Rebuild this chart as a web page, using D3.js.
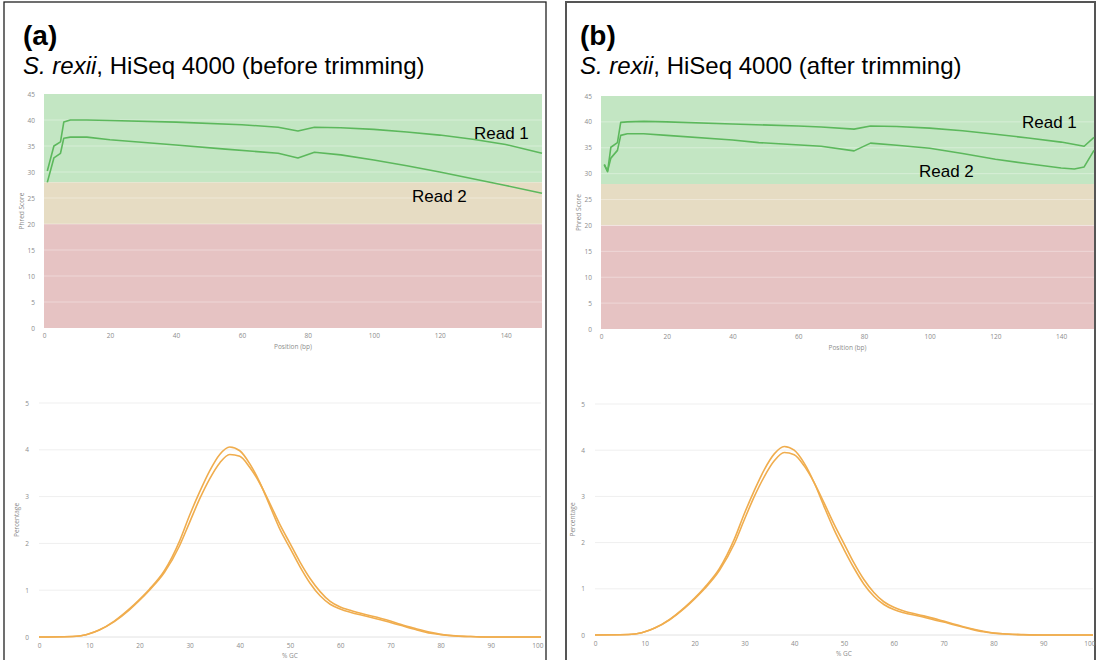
<!DOCTYPE html>
<html><head><meta charset="utf-8">
<script src="https://cdn.jsdelivr.net/npm/d3@7"></script>
<style>
html,body{margin:0;padding:0;background:#fff;}
svg{display:block;}
</style></head>
<body>
<svg id="c" width="1097" height="660"></svg>
<script>
// ---------- DATA ----------
const panelLetters = ["(a)", "(b)"];
const panelSpecies = ["S. rexii", "S. rexii"];
const panelSubtitles = [", HiSeq 4000 (before trimming)", ", HiSeq 4000 (after trimming)"];
const readLabels = ["Read 1", "Read 2"];

const phredTicksY = [0, 5, 10, 15, 20, 25, 30, 35, 40, 45];
const phredTicksX = [0, 20, 40, 60, 80, 100, 120, 140];
const gcTicksY = [0, 1, 2, 3, 4, 5];
const gcTicksX = [0, 10, 20, 30, 40, 50, 60, 70, 80, 90, 100];
const phredBands = [[28, 45, "#c3e6c3"], [20, 28, "#e6dcc3"], [0, 20, "#e6c3c3"]];

// Panel (a) Phred score by position
const aRead1 = [[1,30.2],[3,35.0],[5,35.8],[6,39.6],[8,40.0],[13,40.0],[20,39.9],[40,39.6],[60,39.1],[71,38.6],[77,37.9],[82,38.6],[90,38.5],[100,38.2],[110,37.7],[120,37.1],[130,36.3],[140,35.3],[151,33.6]];
const aRead2 = [[1,28.0],[3,32.7],[5,33.6],[6,36.5],[8,36.7],[13,36.7],[20,36.2],[40,35.2],[55,34.4],[71,33.6],[77,32.7],[82,33.8],[90,33.3],[100,32.3],[110,31.2],[120,30.0],[130,28.7],[140,27.4],[151,25.9]];
// Panel (b) Phred score by position
const bRead1 = [[1,31.8],[2,30.4],[3,35.1],[5,36.0],[6,39.9],[8,40.0],[13,40.1],[20,40.0],[40,39.6],[60,39.2],[67,39.0],[77,38.6],[82,39.2],[90,39.1],[100,38.8],[110,38.3],[120,37.6],[130,36.9],[140,36.1],[147,35.3],[150,37.0]];
const bRead2 = [[1,31.7],[2,30.5],[3,33.0],[5,34.5],[6,37.4],[8,37.7],[13,37.7],[20,37.4],[40,36.5],[48,36.0],[67,35.3],[77,34.4],[82,35.9],[90,35.5],[100,34.9],[110,33.9],[120,32.8],[130,31.9],[140,31.1],[144,30.9],[147,31.3],[150,34.5]];

// Panel (a) GC content distribution
const aGC1 = [[0,0],[5,0.005],[8,0.02],[10,0.07],[12,0.15],[15,0.34],[18,0.6],[20,0.8],[22,1.02],[25,1.42],[28,2.05],[30,2.6],[32,3.1],[34,3.55],[36,3.9],[38,4.06],[40,3.98],[42,3.7],[44,3.3],[46,2.8],[48,2.3],[50,1.9],[52,1.5],[54,1.15],[56,0.88],[58,0.7],[60,0.6],[62,0.53],[65,0.45],[68,0.37],[70,0.31],[72,0.25],[75,0.16],[78,0.08],[80,0.05],[83,0.02],[86,0.01],[90,0],[100,0]];
const aGC2 = [[0,0],[5,0.005],[8,0.02],[10,0.07],[12,0.15],[15,0.33],[18,0.58],[20,0.78],[22,1.0],[25,1.38],[28,1.95],[30,2.45],[32,2.95],[34,3.38],[36,3.72],[38,3.9],[40,3.86],[42,3.62],[44,3.28],[46,2.85],[48,2.4],[50,2.0],[52,1.6],[54,1.25],[56,0.97],[58,0.76],[60,0.64],[62,0.57],[65,0.48],[68,0.4],[70,0.34],[72,0.27],[75,0.18],[78,0.1],[80,0.06],[83,0.025],[86,0.01],[90,0],[100,0]];
// Panel (b) GC content distribution
const bGC1 = [[0,0],[5,0.005],[8,0.02],[10,0.07],[12,0.15],[15,0.34],[18,0.6],[20,0.8],[22,1.03],[25,1.44],[28,2.08],[30,2.63],[32,3.13],[34,3.58],[36,3.92],[38,4.08],[40,4.0],[42,3.72],[44,3.3],[46,2.78],[48,2.28],[50,1.85],[52,1.45],[54,1.1],[56,0.84],[58,0.66],[60,0.55],[62,0.48],[65,0.41],[68,0.33],[70,0.28],[72,0.22],[75,0.14],[78,0.07],[80,0.04],[83,0.015],[86,0.005],[90,0],[100,0]];
const bGC2 = [[0,0],[5,0.005],[8,0.02],[10,0.07],[12,0.15],[15,0.33],[18,0.58],[20,0.78],[22,1.0],[25,1.4],[28,1.98],[30,2.5],[32,3.0],[34,3.43],[36,3.77],[38,3.95],[40,3.9],[42,3.66],[44,3.3],[46,2.86],[48,2.4],[50,1.98],[52,1.56],[54,1.2],[56,0.92],[58,0.72],[60,0.6],[62,0.52],[65,0.44],[68,0.36],[70,0.3],[72,0.24],[75,0.15],[78,0.08],[80,0.045],[83,0.02],[86,0.008],[90,0],[100,0]];

// ---------- LAYOUT ----------
const panels = [
  {frame:[4,2,542], titleX:23, phred:{x:[44,542], y:[328,94], dom:151, r1:aRead1, r2:aRead2, l1:[474,139], l2:[412,202]},
   gc:{x:[39,541], y:[637,403], g1:aGC1, g2:aGC2}},
  {frame:[566,2,529], titleX:580, phred:{x:[601,1094], y:[329,96], dom:150, r1:bRead1, r2:bRead2, l1:[1022,128], l2:[919,177]},
   gc:{x:[595,1093], y:[635,404], g1:bGC1, g2:bGC2}}
];

const svg = d3.select("#c");
const tickFont = "Open Sans, sans-serif";
const tickColor = "#8c8c8c";
const fs = 6.5;

function styleAxis(a) {
  a.select(".domain").remove();
  a.selectAll("text").attr("font-size", fs).attr("fill", tickColor).attr("font-family", tickFont);
}

panels.forEach((p, i) => {
  const g = svg.append("g");
  g.append("rect").attr("x", p.frame[0]).attr("y", p.frame[1]).attr("width", p.frame[2]).attr("height", 700)
    .attr("fill", "none").attr("stroke", i === 0 ? "#222" : "#555").attr("stroke-width", i === 0 ? 1.3 : 2);

  g.append("text").attr("x", p.titleX).attr("y", 45).text(panelLetters[i])
    .attr("font-family", "Liberation Sans, Arial, sans-serif").attr("font-weight", "bold").attr("font-size", 28).attr("fill", "#000");
  const st = g.append("text").attr("x", p.titleX).attr("y", 74)
    .attr("font-family", "Liberation Sans, Arial, sans-serif").attr("font-size", 24).attr("fill", "#000");
  st.append("tspan").attr("font-style", "italic").text(panelSpecies[i]);
  st.append("tspan").text(panelSubtitles[i]);

  // ---- Phred chart ----
  const ph = p.phred;
  const x = d3.scaleLinear().domain([0, ph.dom]).range(ph.x);
  const y = d3.scaleLinear().domain([0, 45]).range(ph.y);
  phredBands.forEach(b => {
    g.append("rect").attr("x", ph.x[0]).attr("width", ph.x[1] - ph.x[0])
      .attr("y", y(b[1])).attr("height", y(b[0]) - y(b[1])).attr("fill", b[2]);
  });
  g.append("g").selectAll("line").data(phredTicksY.slice(1, -1)).join("line")
    .attr("x1", ph.x[0]).attr("x2", ph.x[1]).attr("y1", d => y(d)).attr("y2", d => y(d))
    .attr("stroke", "#ffffff").attr("stroke-opacity", 0.35).attr("stroke-width", 1);
  const yAx = g.append("g").attr("transform", `translate(${ph.x[0] - 9},0)`)
    .call(d3.axisLeft(y).tickValues(phredTicksY).tickSize(0).tickPadding(0));
  const xAx = g.append("g").attr("transform", `translate(0,${ph.y[0] + 3})`)
    .call(d3.axisBottom(x).tickValues(phredTicksX).tickSize(0).tickPadding(2));
  styleAxis(yAx); styleAxis(xAx);
  g.append("text").attr("transform", `translate(${ph.x[0] - 20},${(ph.y[0] + ph.y[1]) / 2}) rotate(-90)`)
    .attr("text-anchor", "middle").attr("font-size", fs).attr("fill", tickColor).attr("font-family", tickFont).text("Phred Score");
  g.append("text").attr("x", (ph.x[0] + ph.x[1]) / 2).attr("y", ph.y[0] + 21)
    .attr("text-anchor", "middle").attr("font-size", fs).attr("fill", tickColor).attr("font-family", tickFont).text("Position (bp)");

  const line = d3.line().x(d => x(d[0])).y(d => y(d[1])).curve(d3.curveLinear);
  [ph.r1, ph.r2].forEach(r => {
    g.append("path").datum(r).attr("d", line).attr("fill", "none")
      .attr("stroke", "#5cb85c").attr("stroke-width", 1.6).attr("stroke-linejoin", "round");
  });
  [ph.l1, ph.l2].forEach((l, k) => {
    g.append("text").attr("x", l[0]).attr("y", l[1]).text(readLabels[k])
      .attr("font-family", "Liberation Sans, Arial, sans-serif").attr("font-size", 17).attr("fill", "#000");
  });

  // ---- GC chart ----
  const gc = p.gc;
  const gx = d3.scaleLinear().domain([0, 100]).range(gc.x);
  const gy = d3.scaleLinear().domain([0, 5]).range(gc.y);
  g.append("g").selectAll("line").data(gcTicksY).join("line")
    .attr("x1", gc.x[0]).attr("x2", gc.x[1]).attr("y1", d => gy(d)).attr("y2", d => gy(d))
    .attr("stroke", d => d === 0 ? "#e2e2e2" : "#efefef").attr("stroke-width", 1);
  const gyAx = g.append("g").attr("transform", `translate(${gc.x[0] - 10},0)`)
    .call(d3.axisLeft(gy).tickValues(gcTicksY).tickFormat(d3.format("d")).tickSize(0).tickPadding(0));
  const gxAx = g.append("g").attr("transform", `translate(0,${gc.y[0] + 3})`)
    .call(d3.axisBottom(gx).tickValues(gcTicksX).tickFormat(d3.format("d")).tickSize(0).tickPadding(3));
  styleAxis(gyAx); styleAxis(gxAx);
  gxAx.selectAll(".tick").filter(d => d === 100).select("text").attr("text-anchor", "end").attr("dx", 2);
  g.append("text").attr("transform", `translate(${gc.x[0] - 20},${gy(2.5)}) rotate(-90)`)
    .attr("text-anchor", "middle").attr("font-size", fs).attr("fill", tickColor).attr("font-family", tickFont).text("Percentage");
  g.append("text").attr("x", gx(50)).attr("y", gc.y[0] + 21)
    .attr("text-anchor", "middle").attr("font-size", fs).attr("fill", tickColor).attr("font-family", tickFont).text("% GC");

  const gline = d3.line().x(d => gx(d[0])).y(d => gy(d[1])).curve(d3.curveMonotoneX);
  [gc.g1, gc.g2].forEach(s => {
    g.append("path").datum(s).attr("d", gline).attr("fill", "none")
      .attr("stroke", "#f0ad4e").attr("stroke-width", 1.6);
  });
});
</script>
</body></html>
